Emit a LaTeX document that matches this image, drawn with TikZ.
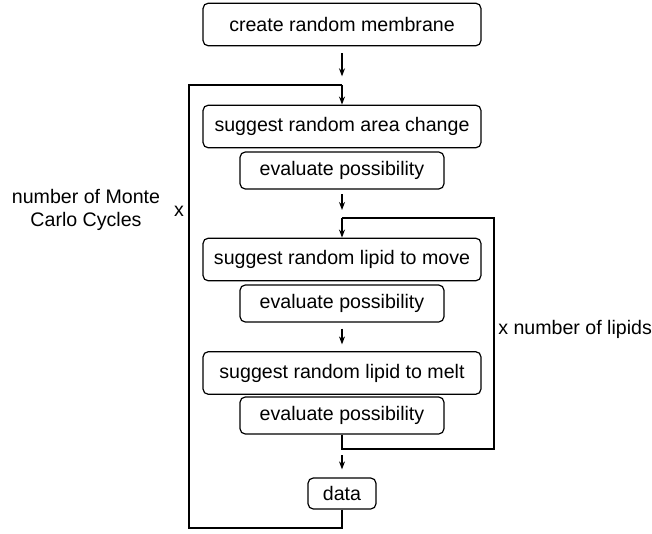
\documentclass[tikz,border=0pt]{standalone}
\usepackage{fontspec}
\setmainfont{Liberation Sans}
\usetikzlibrary{arrows.meta}
\begin{document}
\begin{tikzpicture}[x=0.75pt,y=-0.75pt,
  every node/.style={font=\fontsize{14.7}{17.6}\selectfont},
  wide/.style={draw,rounded corners=4pt,line width=0.9pt,minimum width=208.5pt,minimum height=32pt,inner sep=0pt},
  narrow/.style={draw,rounded corners=4pt,line width=0.9pt,minimum width=153pt,minimum height=27.8pt,inner sep=0pt},
  small/.style={draw,rounded corners=4pt,line width=0.9pt,minimum width=51pt,minimum height=23.3pt,inner sep=0pt},
  flow/.style={line width=0.9pt},
  arr/.style={flow,-{Stealth[length=6pt,width=4.5pt]}}]
\useasboundingbox (0,0) rectangle (652,534);

% main steps
\node[wide]   (create) at (342,24.5)  {create random membrane};
\node[wide]   (area)   at (342,126.5) {suggest random area change};
\node[narrow] (evA)    at (342,170.5) {evaluate possibility};
\node[wide]   (move)   at (342,259.5) {suggest random lipid to move};
\node[narrow] (evB)    at (342,303.5) {evaluate possibility};
\node[wide]   (melt)   at (342,373)   {suggest random lipid to melt};
\node[narrow] (evC)    at (342,415.5) {evaluate possibility};
\node[small]  (data)   at (342,493.5) {data};

% loop junctions
\coordinate (outerTop) at (342,85);
\coordinate (innerTop) at (342,218);
\coordinate (innerBot) at (342,449);
\coordinate (outerBot) at (342,528);
\coordinate (outerLeft) at (189,0);
\coordinate (innerRight) at (494,0);

% straight arrows between steps
\draw[arr,shorten <=5pt,shorten >=6.5pt] (create.south) -- (outerTop);
\draw[arr,shorten <=3.5pt,shorten >=6pt] (evA.south) -- (innerTop);
\draw[arr,shorten <=4.5pt,shorten >=5pt] (evB.south) -- (melt.north);
\draw[arr,shorten <=4.5pt,shorten >=6pt] (innerBot) -- (data.north);

% Monte Carlo cycle loop
\draw[flow] (data.south) -- (outerBot) -| (outerLeft |- outerTop) -- (outerTop);
\draw[arr] (outerTop) -- (area.north);

% lipid loop
\draw[flow] (evC.south) -- (innerBot) -| (innerRight |- innerTop) -- (innerTop);
\draw[arr] (innerTop) -- (move.north);

% loop labels
\node[align=center] (mcLabel) at (86,210) {number of Monte\\Carlo Cycles};
\node (mcX) at (179,211) {x};
\node[anchor=west,inner sep=0pt] (lipLabel) at (498,329) {x number of lipids};
\end{tikzpicture}
\end{document}
